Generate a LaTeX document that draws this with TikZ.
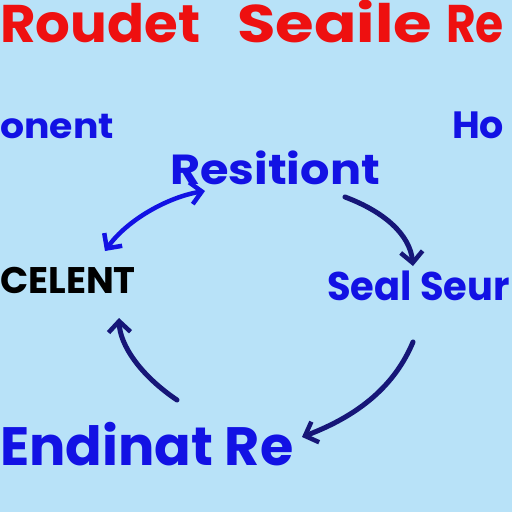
\documentclass[tikz,border=0pt]{standalone}
\usepackage{fontspec}
\newfontfamily\pop{Poppins}
\usetikzlibrary{arrows.meta}
\definecolor{bgblue}{RGB}{184,226,248}
\definecolor{txtblue}{RGB}{18,18,228}
\definecolor{navy}{RGB}{22,22,120}
\definecolor{titred}{RGB}{238,16,16}
\tikzset{
  lbl/.style={inner sep=0pt, anchor=base west, font=\pop\bfseries},
  titlbl/.style={lbl, text=titred, font=\pop\bfseries\fontsize{53}{53}\selectfont},
  bluearr/.style={draw=txtblue, line width=4.5pt, line cap=round, line join=round},
  navyarr/.style={draw=navy, line width=5pt, line cap=round, line join=round},
  tip/.style={-{Straight Barb[length=11pt,width=22pt,line width=4.5pt]}}
}
\begin{document}
\begin{tikzpicture}[x=1pt,y=-1pt]
\useasboundingbox (0,0) rectangle (512,512);
\clip (0,0) rectangle (512,512);
\fill[bgblue] (0,0) rectangle (512,512);
% title
\node[titlbl] (t1) at (0,42) {\scalebox{1.03}[1]{Roudet}};
\node[titlbl] (t2) at (237,42) {\scalebox{1.18}[1]{Seaile}};
\node[titlbl] (t3) at (446,42) {\scalebox{0.86}[1]{Re}};
% side labels
\node[lbl, text=txtblue, font=\pop\bfseries\fontsize{35}{35}\selectfont] (onent) at (0,138) {\scalebox{1.08}[1]{onent}};
\node[lbl, text=txtblue, font=\pop\bfseries\fontsize{38}{38}\selectfont] (ho) at (452,138) {Ho};
% cycle labels
\node[lbl, text=txtblue, font=\pop\bfseries\fontsize{42}{42}\selectfont] (res) at (170,184) {\scalebox{1.1}[1]{Resitiont}};
\node[lbl, text=black, font=\pop\bfseries\fontsize{37}{37}\selectfont] (cel) at (0,293) {CELENT};
\node[lbl, text=txtblue, font=\pop\bfseries\fontsize{40}{40}\selectfont] (seal) at (327,300) {\scalebox{0.96}[1]{Seal Seur}};
\node[lbl, text=txtblue, font=\pop\bfseries\fontsize{54}{54}\selectfont] (end) at (0,465) {Endinat Re};
% anchor points for arrows
\coordinate (a1s) at (105,251);
\coordinate (a1e) at (205,191);
\coordinate (a2s) at (345,197);
\coordinate (a2e) at (413,266);
\coordinate (a3s) at (413,342);
\coordinate (a3e) at (302,437);
\coordinate (a4s) at (177,400);
\coordinate (a4e) at (119,318);
% arrows
\draw[bluearr, {Straight Barb[length=11pt,width=22pt,line width=4.5pt]}-{Straight Barb[length=11pt,width=22pt,line width=4.5pt]}]
  (a1s) .. controls (127,220) and (168,197) .. (a1e);
\draw[navyarr, tip] (a2s) .. controls (385,212) and (410,235) .. (a2e);
\draw[navyarr, tip] (a3s) .. controls (395,385) and (360,415) .. (a3e);
\draw[navyarr, tip] (a4s) .. controls (140,375) and (120,345) .. (a4e);
\end{tikzpicture}
\end{document}
